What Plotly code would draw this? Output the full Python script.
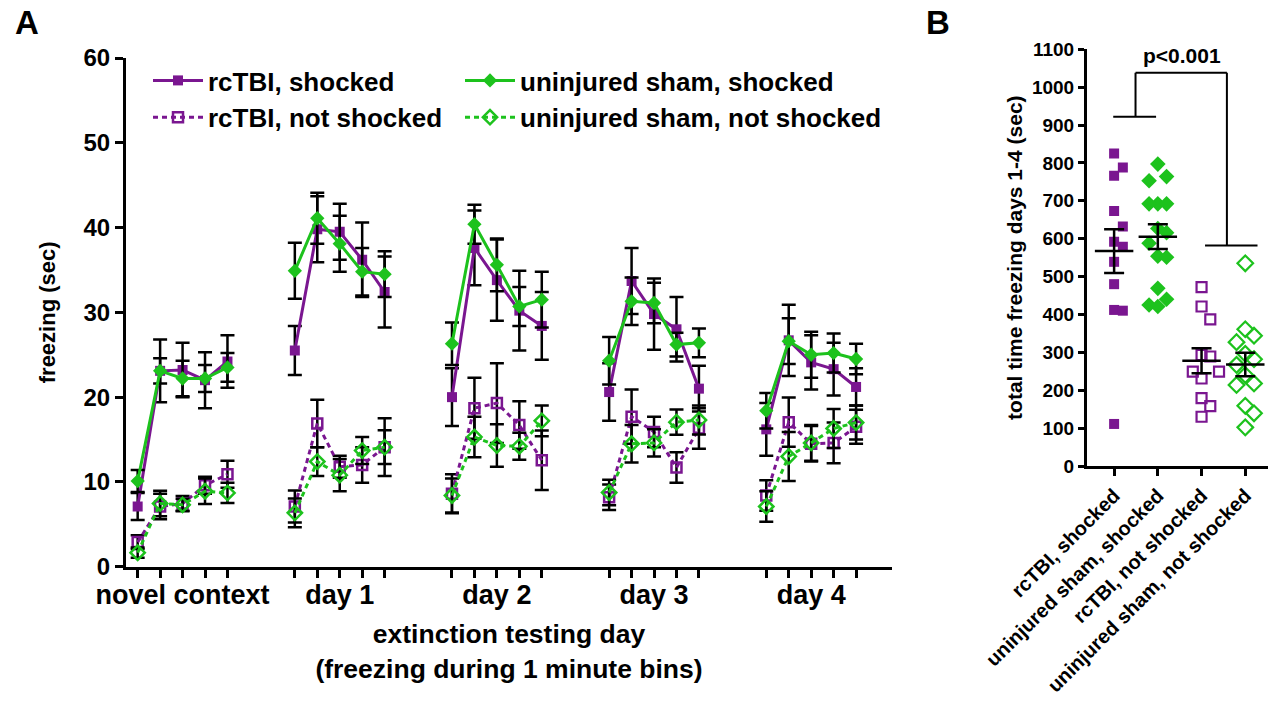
import numpy as np
import plotly.graph_objects as go

# ---------------- Panel A data ----------------
day_labels = ["novel context", "day 1", "day 2", "day 3", "day 4"]
bins_per_day = 5

rc_shock = [7.1, 23.1, 23.2, 22.0, 24.2,
            25.5, 39.8, 39.5, 36.2, 32.4,
            20.0, 37.6, 33.8, 30.2, 28.4,
            20.6, 33.7, 29.8, 28.0, 21.0,
            16.2, 26.7, 24.1, 23.3, 21.2]
rc_shock_sem = [1.6, 3.7, 3.2, 3.3, 3.1,
                2.9, 3.9, 3.3, 4.4, 4.2,
                3.4, 4.4, 4.8, 4.7, 4.0,
                3.4, 3.9, 4.2, 3.8, 2.7,
                3.1, 4.2, 3.2, 3.1, 2.2]

sham_shock = [10.1, 23.1, 22.2, 22.2, 23.5,
              34.9, 41.1, 38.1, 34.8, 34.5,
              26.3, 40.4, 35.6, 30.7, 31.5,
              24.3, 31.3, 31.1, 26.2, 26.4,
              18.4, 26.6, 25.0, 25.2, 24.5]
sham_shock_sem = [1.3, 1.5, 2.1, 1.6, 1.7,
                  3.3, 3.0, 3.3, 2.8, 2.7,
                  2.5, 2.3, 3.1, 2.3, 3.3,
                  2.8, 2.8, 2.4, 1.4, 1.7,
                  2.1, 2.7, 2.7, 2.3, 1.8]

rc_noshock = [2.9, 7.1, 7.45, 9.6, 10.9,
              7.1, 16.9, 11.8, 12.0, 14.1,
              8.6, 18.7, 19.3, 16.7, 12.55,
              8.2, 17.7, 15.9, 11.7, 16.3,
              8.4, 17.05, 14.5, 14.6, 16.5]
rc_noshock_sem = [0.8, 1.5, 0.9, 1.0, 1.6,
                  1.9, 2.8, 1.3, 2.1, 3.4,
                  2.3, 3.6, 4.7, 2.8, 3.5,
                  1.5, 3.2, 1.8, 1.8, 2.4,
                  1.8, 2.9, 2.1, 2.4, 2.0]

sham_noshock = [1.65, 7.45, 7.3, 8.9, 8.7,
                6.35, 12.4, 10.8, 13.7, 14.1,
                8.4, 15.3, 14.3, 14.2, 17.2,
                8.75, 14.5, 14.6, 17.05, 17.3,
                7.1, 13.0, 14.6, 16.3, 17.0]
sham_noshock_sem = [0.6, 1.5, 0.7, 1.5, 1.2,
                    1.7, 1.7, 1.9, 1.6, 2.0,
                    2.0, 2.4, 2.5, 1.6, 1.8,
                    1.5, 2.2, 1.6, 1.5, 1.7,
                    1.8, 2.9, 2.1, 2.3, 2.0]

# ---------------- Panel B data ----------------
group_labels = ["rcTBI, shocked", "uninjured sham, shocked",
                "rcTBI, not shocked", "uninjured sham, not shocked"]
tot_rc_shock = [825, 788, 766, 673, 632, 592, 579, 539, 480, 412, 410, 111]
tot_sham_shock = [797, 764, 753, 692, 692, 692, 627, 616, 588, 554, 551,
                  469, 440, 425, 421]
tot_rc_noshock = [472, 421, 387, 293, 289, 249, 249, 231, 179, 158, 130]
tot_sham_noshock = [535, 361, 344, 327, 296, 282, 267, 240, 218, 214, 159,
                     139, 102]
p_text = "p<0.001"

# ---------------- styles ----------------
PURPLE = "#7A1690"
GREEN = "#1DC21D"
FONT = "Liberation Sans, Arial, sans-serif"
GAP = 2  # empty bins between days


def positions():
    xs = []
    for d in range(len(day_labels)):
        for b in range(bins_per_day):
            xs.append(d * (bins_per_day + GAP) + b)
    return xs


def broken(vals):
    """Insert None between days so lines break."""
    xs_all = positions()
    xo, yo = [], []
    for d in range(len(day_labels)):
        sl = slice(d * bins_per_day, (d + 1) * bins_per_day)
        xo += xs_all[sl] + [None]
        yo += list(vals[sl]) + [None]
    return xo, yo


fig = go.Figure()

series = [
    ("rcTBI, shocked", rc_shock, rc_shock_sem, PURPLE, "square", "solid", False, "legend"),
    ("uninjured sham, shocked", sham_shock, sham_shock_sem, GREEN, "diamond", "solid", False, "legend2"),
    ("rcTBI, not shocked", rc_noshock, rc_noshock_sem, PURPLE, "square-open", "5px,4px", True, "legend"),
    ("uninjured sham, not shocked", sham_noshock, sham_noshock_sem, GREEN, "diamond-open", "5px,4px", True, "legend2"),
]

for name, vals, sem, col, sym, dash, opn, leg in series:
    xo, yo = broken(vals)
    _, eo = broken(sem)
    fig.add_trace(go.Scatter(
        x=xo, y=yo, name=name, mode="lines+markers", legend=leg,
        line=dict(color=col, width=3, dash=dash),
        marker=dict(symbol=sym, color=col, size=11 if "diamond" in sym else 10,
                    line=dict(color=col, width=2.5 if opn else 0)),
        error_y=dict(type="data", array=eo, color="black", thickness=2.5, width=7),
        connectgaps=False, xaxis="x", yaxis="y",
    ))

# ---------------- Panel B ----------------
def swarm(vals, thr=45.0, step=0.2):
    placed = []
    offs = []
    for v in vals:
        for k in [0, 1, -1, 2, -2, 3, -3]:
            if all(not (po == k and abs(pv - v) < thr) for pv, po in placed):
                placed.append((v, k))
                offs.append(k * step)
                break
    return offs


groups = [
    (tot_rc_shock, PURPLE, "square", 10),
    (tot_sham_shock, GREEN, "diamond", 12),
    (tot_rc_noshock, PURPLE, "square-open", 10),
    (tot_sham_noshock, GREEN, "diamond-open", 12),
]
for i, (vals, col, sym, sz) in enumerate(groups):
    offs = swarm(vals)
    fig.add_trace(go.Scatter(
        x=[i + o for o in offs], y=vals, mode="markers", showlegend=False,
        marker=dict(symbol=sym, color=col, size=sz,
                    line=dict(color=col, width=2.2 if "open" in sym else 0)),
        xaxis="x2", yaxis="y2",
    ))
    m = float(np.mean(vals))
    s = float(np.std(vals, ddof=1) / np.sqrt(len(vals)))
    fig.add_trace(go.Scatter(
        x=[i - 0.44, i + 0.44], y=[m, m], mode="lines", showlegend=False,
        line=dict(color="black", width=2.5), xaxis="x2", yaxis="y2",
    ))
    fig.add_trace(go.Scatter(
        x=[i], y=[m], mode="markers", showlegend=False,
        marker=dict(size=1, color="rgba(0,0,0,0)"),
        error_y=dict(type="data", array=[s], color="black", thickness=2.5, width=10),
        xaxis="x2", yaxis="y2",
    ))

# significance bracket (heights derived from the data)
left_y = max(max(tot_rc_shock), max(tot_sham_shock)) + 97
right_y = max(max(tot_rc_noshock), max(tot_sham_noshock)) + 47
top_y = left_y + 116
bl = dict(color="black", width=2)
for x0, y0, x1, y1 in [(-0.02, left_y, 0.96, left_y),
                       (0.49, left_y, 0.49, top_y),
                       (0.49, top_y, 2.58, top_y),
                       (2.58, top_y, 2.58, right_y),
                       (2.08, right_y, 3.28, right_y)]:
    fig.add_shape(type="line", x0=x0, y0=y0, x1=x1, y1=y1, xref="x2", yref="y2", line=bl)
fig.add_annotation(x=1.55, y=top_y, xref="x2", yref="y2", text=p_text, showarrow=False,
                   yanchor="bottom", yshift=4,
                   font=dict(family=FONT, size=21, color="black", weight="bold"))

# panel letters
for lab, xp in [("A", 27), ("B", 938)]:
    fig.add_annotation(x=xp / 1270, y=1 - 22 / 702, xref="paper", yref="paper", text=lab,
                       showarrow=False, xanchor="center", yanchor="middle",
                       font=dict(family=FONT, size=33, color="black", weight="bold"))

xs_all = positions()
ticktext = []
for d in range(len(day_labels)):
    for b in range(bins_per_day):
        ticktext.append(day_labels[d] if b == bins_per_day // 2 else "")

axis_common = dict(showline=True, linecolor="black", linewidth=3, ticks="outside",
                   tickcolor="black", tickwidth=2.5, showgrid=False, zeroline=False,
                   mirror=False, automargin=False)
bold = lambda s: dict(family=FONT, size=s, color="black", weight="bold")
leg_common = dict(orientation="v", xanchor="left", yanchor="top", font=bold(26),
                  bgcolor="rgba(0,0,0,0)", itemwidth=50, tracegroupgap=0)

fig.update_layout(
    width=1270, height=702, plot_bgcolor="white", paper_bgcolor="white",
    margin=dict(l=0, r=0, t=0, b=0, autoexpand=False),
    font=dict(family=FONT, color="black"),
    xaxis=dict(domain=[126 / 1270, 892 / 1270], range=[-0.52, 33.6], anchor="y",
               tickvals=xs_all, ticktext=ticktext, tickangle=0, ticklen=8, tickfont=bold(27),
               ticklabelstandoff=-6,
               title=dict(text="extinction testing day<br>(freezing during 1 minute bins)",
                          font=bold(26.5), standoff=16),
               **axis_common),
    yaxis=dict(domain=[1 - 566.7 / 702, 1 - 58 / 702], range=[0, 60], dtick=10, anchor="x",
               ticklen=8, tickfont=bold(24),
               title=dict(text="freezing (sec)", font=bold(22), standoff=22),
               **axis_common),
    xaxis2=dict(domain=[1087 / 1270, 1268 / 1270], range=[-0.62, 3.52], anchor="y2",
                tickvals=[0, 1, 2, 3], ticktext=group_labels, tickangle=-45, ticklen=7,
                tickfont=bold(20), **axis_common),
    yaxis2=dict(domain=[1 - 466 / 702, 1 - 49.3 / 702], range=[0, 1100], dtick=100, anchor="x2",
                ticklen=6, tickfont=bold(19),
                title=dict(text="total time freezing days 1-4 (sec)", font=bold(21), standoff=4),
                **axis_common),
    legend=dict(x=148 / 1270, y=1 - 57 / 702, **leg_common),
    legend2=dict(x=460 / 1270, y=1 - 57 / 702, **leg_common),
)

fig.write_html("out.html", config={"displayModeBar": False},
               post_script="document.body.style.margin='0px';document.body.style.overflow='hidden';")
